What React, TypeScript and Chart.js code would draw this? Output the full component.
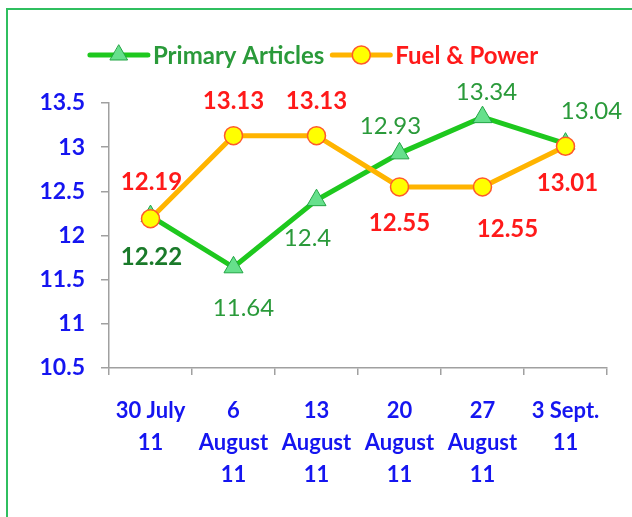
import React, { useEffect, useRef } from "react";
import { Chart, registerables } from "chart.js";

Chart.register(...registerables);

const categories: string[][] = [
  ["30 July", "11"],
  ["6", "August", "11"],
  ["13", "August", "11"],
  ["20", "August", "11"],
  ["27", "August", "11"],
  ["3 Sept.", "11"],
];
const primaryArticles = [12.22, 11.64, 12.4, 12.93, 13.34, 13.04];
const fuelPower = [12.19, 13.13, 13.13, 12.55, 12.55, 13.01];
const yTickValues = [10.5, 11, 11.5, 12, 12.5, 13, 13.5];
const seriesNames = ["Primary Articles", "Fuel & Power"];

// label placement (style only): offsets from the point centre
const primaryLabelOffsets = [[1, 41], [10, 41], [-9, 38], [-9, -27], [4, -25], [26, -32]];
const fuelLabelOffsets = [[1, -36], [0, -34], [0, -34], [0, 36], [25, 42], [2, 37]];

const FONT = "Lato, 'Open Sans', sans-serif";
const GREEN_LINE = "#1ec81e";
const ORANGE_LINE = "#ffb400";
const TRI_FILL = "#66e08c";
const TRI_BORDER = "#22a544";
const CIRC_FILL = "#ffff00";
const CIRC_BORDER = "#ff5a2a";
const GREEN_TEXT = "#2a9a3a";
const DARK_GREEN_TEXT = "#1a7a2a";
const RED_TEXT = "#ff1a1a";
const BLUE_TEXT = "#1515f0";
const AXIS_GREY = "#a0a0a0";

const labelPlugin = {
  id: "valueLabels",
  afterDatasetsDraw(chart: any) {
    const ctx = chart.ctx;
    ctx.save();
    ctx.textAlign = "center";
    ctx.textBaseline = "middle";
    chart.data.datasets.forEach((ds: any, di: number) => {
      const meta = chart.getDatasetMeta(di);
      meta.data.forEach((pt: any, i: number) => {
        const isPrimary = ds.label === seriesNames[0];
        const off = isPrimary ? primaryLabelOffsets[i] : fuelLabelOffsets[i];
        if (isPrimary) {
          if (i === 0) {
            ctx.font = `bold 24px ${FONT}`;
            ctx.fillStyle = DARK_GREEN_TEXT;
          } else {
            ctx.font = `24px ${FONT}`;
            ctx.fillStyle = GREEN_TEXT;
          }
        } else {
          ctx.font = `bold 24px ${FONT}`;
          ctx.fillStyle = RED_TEXT;
        }
        ctx.fillText(String(ds.data[i]), pt.x + off[0], pt.y + off[1]);
      });
    });
    ctx.restore();
  },
};

const legendPlugin = {
  id: "customLegend",
  afterDraw(chart: any) {
    const ctx = chart.ctx;
    ctx.save();
    ctx.font = `bold 24px ${FONT}`;
    ctx.textBaseline = "middle";
    ctx.textAlign = "left";
    const lineLen = 58;
    const gapText = 5;
    const gapItem = 8;
    const w1 = ctx.measureText(seriesNames[0]).width;
    const w2 = ctx.measureText(seriesNames[1]).width;
    const total = lineLen + gapText + w1 + gapItem + lineLen + gapText + w2;
    let x = 314 - total / 2;
    const y = 55;
    // item 1
    ctx.strokeStyle = GREEN_LINE;
    ctx.lineWidth = 5;
    ctx.lineCap = "round";
    ctx.beginPath();
    ctx.moveTo(x, y);
    ctx.lineTo(x + lineLen, y);
    ctx.stroke();
    const tx = x + lineLen / 2;
    const r = 10;
    ctx.beginPath();
    ctx.moveTo(tx, y - r);
    ctx.lineTo(tx + r * 0.866, y + r * 0.5);
    ctx.lineTo(tx - r * 0.866, y + r * 0.5);
    ctx.closePath();
    ctx.fillStyle = TRI_FILL;
    ctx.fill();
    ctx.strokeStyle = TRI_BORDER;
    ctx.lineWidth = 1;
    ctx.stroke();
    x += lineLen + gapText;
    ctx.fillStyle = GREEN_TEXT;
    ctx.fillText(seriesNames[0], x, y + 1);
    x += w1 + gapItem;
    // item 2
    ctx.strokeStyle = ORANGE_LINE;
    ctx.lineWidth = 5;
    ctx.beginPath();
    ctx.moveTo(x, y);
    ctx.lineTo(x + lineLen, y);
    ctx.stroke();
    ctx.beginPath();
    ctx.arc(x + lineLen / 2, y, 9, 0, Math.PI * 2);
    ctx.fillStyle = CIRC_FILL;
    ctx.fill();
    ctx.strokeStyle = CIRC_BORDER;
    ctx.lineWidth = 1.5;
    ctx.stroke();
    x += lineLen + gapText;
    ctx.fillStyle = RED_TEXT;
    ctx.fillText(seriesNames[1], x, y + 1);
    ctx.restore();
  },
};

export default function App() {
  const ref = useRef<HTMLCanvasElement | null>(null);
  useEffect(() => {
    if (!ref.current) return;
    const chart = new Chart(ref.current, {
      type: "line",
      data: {
        labels: categories,
        datasets: [
          {
            label: seriesNames[0],
            data: primaryArticles,
            borderColor: GREEN_LINE,
            backgroundColor: TRI_FILL,
            borderWidth: 5,
            pointStyle: "triangle",
            pointRadius: 11,
            pointBackgroundColor: TRI_FILL,
            pointBorderColor: TRI_BORDER,
            pointBorderWidth: 1,
            tension: 0,
            order: 1,
          },
          {
            label: seriesNames[1],
            data: fuelPower,
            borderColor: ORANGE_LINE,
            backgroundColor: CIRC_FILL,
            borderWidth: 5,
            pointStyle: "circle",
            pointRadius: 9,
            pointBackgroundColor: CIRC_FILL,
            pointBorderColor: CIRC_BORDER,
            pointBorderWidth: 1.5,
            tension: 0,
            order: 0,
          },
        ],
      },
      options: {
        responsive: false,
        animation: false,
        layout: { padding: { left: 0, top: 103, right: 25, bottom: 0 } },
        plugins: {
          legend: { display: false },
          tooltip: { enabled: false },
        },
        scales: {
          x: {
            type: "category",
            offset: true,
            grid: {
              offset: true,
              drawOnChartArea: false,
              drawTicks: true,
              tickLength: 7,
              color: AXIS_GREY,
              lineWidth: 1.5,
            },
            border: { display: true, color: AXIS_GREY, width: 1.5 },
            ticks: {
              color: BLUE_TEXT,
              font: { family: FONT, size: 22, weight: "bold", lineHeight: 1.4545 },
              padding: 20,
              maxRotation: 0,
              autoSkip: false,
            },
            afterFit: (s: any) => {
              s.height = 149;
            },
          },
          y: {
            min: 10.5,
            max: 13.5,
            afterBuildTicks: (s: any) => {
              s.ticks = yTickValues.map((v) => ({ value: v }));
            },
            grid: {
              drawOnChartArea: false,
              drawTicks: true,
              tickLength: 8,
              color: AXIS_GREY,
              lineWidth: 1.5,
            },
            border: { display: true, color: AXIS_GREY, width: 1.5 },
            ticks: {
              color: BLUE_TEXT,
              font: { family: FONT, size: 23, weight: "bold" },
              padding: 16,
              callback: (v: any) => String(v),
            },
            afterFit: (s: any) => {
              s.width = 109;
            },
          },
        },
      },
      plugins: [labelPlugin, legendPlugin],
    });
    return () => chart.destroy();
  }, []);

  return (
    <div
      style={{
        position: "absolute",
        left: 0,
        top: 0,
        width: 632,
        height: 517,
        overflow: "hidden",
        background: "#ffffff",
      }}
    >
      <div
        style={{
          position: "absolute",
          left: 6,
          top: 8,
          width: 660,
          height: 507,
          borderLeft: "2px solid #2fbf5f",
          borderTop: "2px solid #2fbf5f",
          borderBottom: "1px solid #f0f8e0",
        }}
      />
      <canvas
        ref={ref}
        width={632}
        height={517}
        style={{ position: "absolute", left: 0, top: 0 }}
      />
    </div>
  );
}
